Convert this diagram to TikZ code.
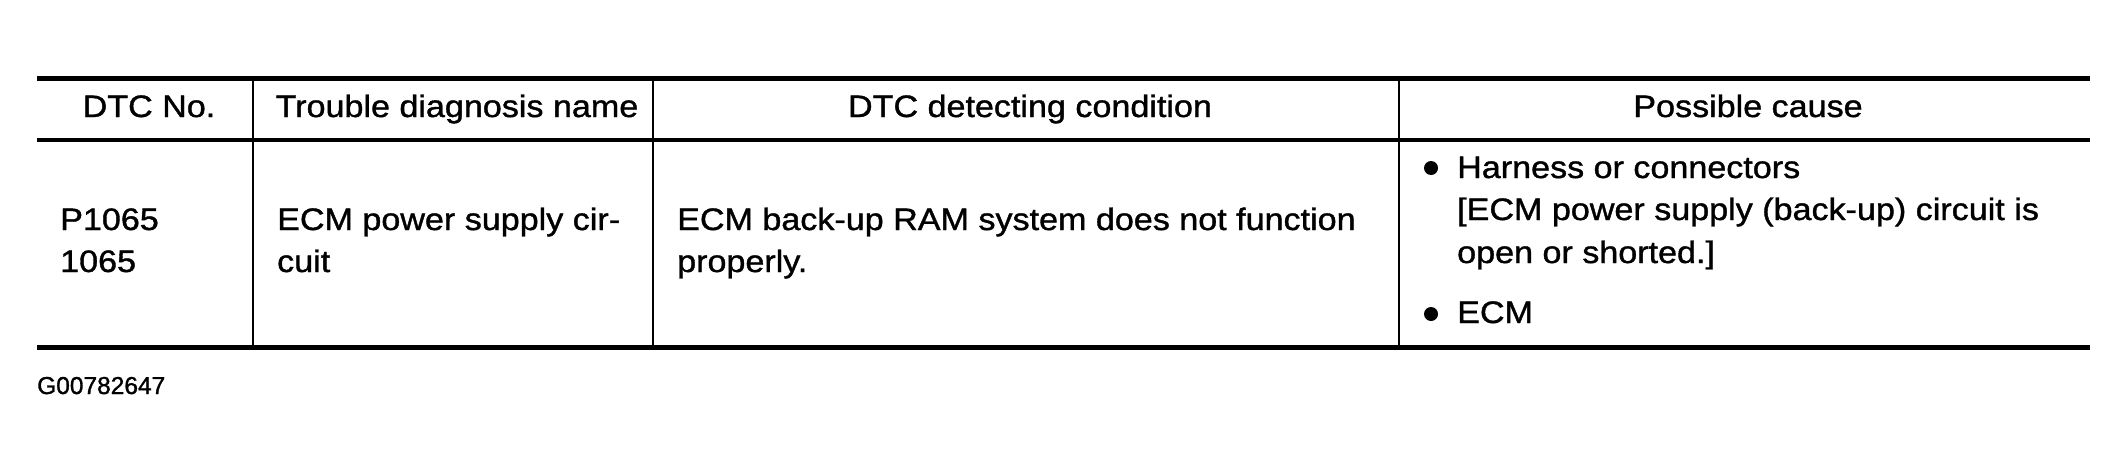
\documentclass[tikz,border=0pt]{standalone}
\usepackage{fontspec}
\setmainfont{Liberation Sans}[FakeStretch=1.1,FakeBold=1.2]
\newfontfamily\figfont{Liberation Sans}[FakeBold=1.2]
\usepackage{tikz}

\begin{document}
\begin{tikzpicture}[x=1pt,y=-1pt,
    cell/.style={anchor=base west,inner sep=0pt,font=\fontsize{31}{42}\selectfont},
    head/.style={anchor=base,inner sep=0pt,font=\fontsize{31}{42}\selectfont},
    dot/.style={circle,fill=black,inner sep=0pt,minimum size=14pt}]
    \useasboundingbox (0,0) rectangle (2128,469);

    % Rules
    \draw[line width=5pt] (37,78) -- (2090,78);
    \draw[line width=3.5pt] (37,140) -- (2090,140);
    \draw[line width=5pt] (37,347) -- (2090,347);

    % Column lines
    \foreach \x in {253,653,1399}
        \draw[line width=2.5pt] (\x,78) -- (\x,347);

    % Header
    \node[head] (hno) at (149,117) {DTC No.};
    \node[head] (hname) at (457,117) {Trouble diagnosis name};
    \node[head] (hcond) at (1030,117) {DTC detecting condition};
    \node[head] (hcause) at (1748,117) {Possible cause};

    % DTC No.
    \node[cell] (noA) at (60,230) {P1065};
    \node[cell] (noB) at (60,272) {1065};

    % Trouble diagnosis name
    \node[cell] (nameA) at (277,230) {ECM power supply cir-};
    \node[cell] (nameB) at (277,272) {cuit};

    % Detecting condition
    \node[cell] (condA) at (677,230) {ECM back-up RAM system does not function};
    \node[cell] (condB) at (677,272) {properly.};

    % Possible cause
    \node[dot] (dotA) at (1431,168) {};
    \node[cell] (causeA) at (1457,178) {Harness or connectors};
    \node[cell] (causeB) at (1457,220) {[ECM power supply (back-up) circuit is};
    \node[cell] (causeC) at (1457,263) {open or shorted.]};
    \node[dot] (dotB) at (1431,314) {};
    \node[cell] (causeD) at (1457,323) {ECM};

    % Figure number
    \node[anchor=base west,inner sep=0pt,font=\figfont\fontsize{24.5}{30}\selectfont] (fig) at (37,394) {G00782647};
\end{tikzpicture}
\end{document}
